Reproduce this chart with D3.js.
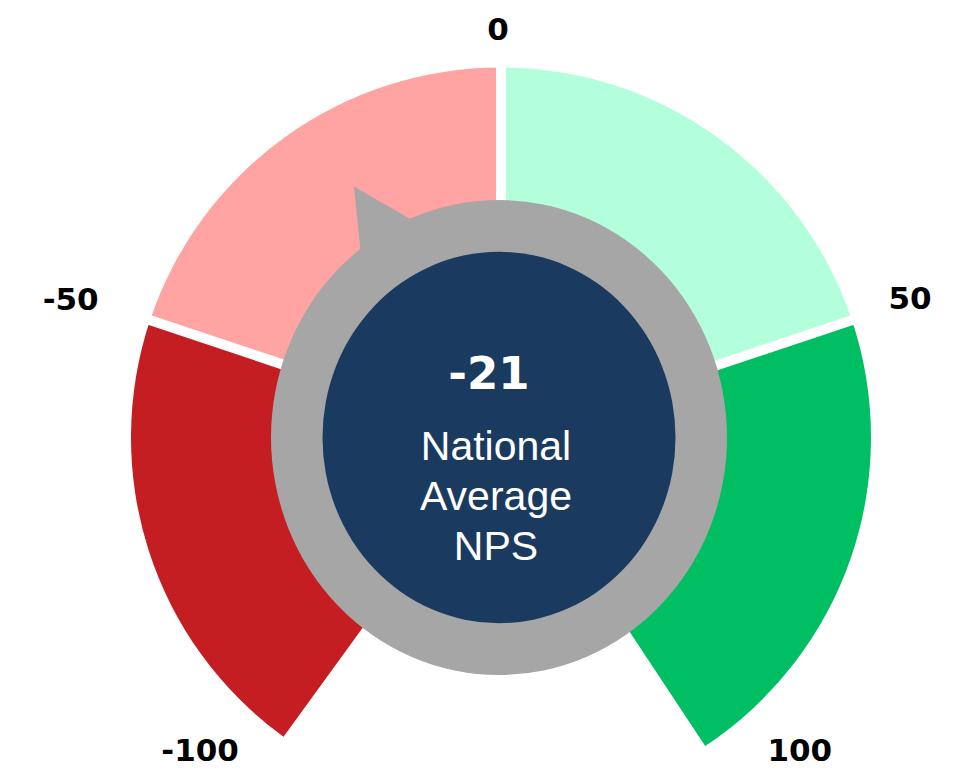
<!DOCTYPE html>
<html>
<head>
<meta charset="utf-8">
<script src="https://cdn.jsdelivr.net/npm/d3@7"></script>
<style>
  html, body { margin: 0; padding: 0; background: #ffffff; }
  svg { display: block; }
</style>
</head>
<body>
<div id="chart"></div>
<script>
// NPS bands around the dial
const bandStarts = [-100, -50, 0, 50];
const bandEnds   = [-50, 0, 50, 100];
const bandColors = ["#C41E22", "#FFA3A3", "#B4FFDB", "#00BF63"];

// Scale labels around the dial
const tickValues = [-100, -50, 0, 50, 100];
const tickLabels = ["-100", "-50", "0", "50", "100"];

// Score shown by the pointer and in the hub
const npsValue = -21;
const hubLines = ["National", "Average", "NPS"];

const width = 969, height = 771;
const cx = 501, cy = 437.5;         // dial centre
const hx = 499;                      // hub centre x
const outerR = 370, innerR = 150;
const ringRx = 228, ringRy = 237.5;  // grey ring
const hubRx = 176.5, hubRy = 185.7;  // navy hub

const deg = Math.PI / 180;
const angle = d3.scaleLinear()
  .domain([-100, -50, 0, 50, 100])
  .range([-144, -71.5, 0, 71.5, 146.5].map(v => v * deg));

const svg = d3.select("#chart").append("svg")
  .attr("width", width).attr("height", height);

// Coloured bands
const arc = d3.arc().innerRadius(innerR).outerRadius(outerR);
const dial = svg.append("g").attr("transform", `translate(${cx},${cy})`);
dial.selectAll("path.band")
  .data(bandStarts.map((s, i) => ({ s, e: bandEnds[i], c: bandColors[i] })))
  .join("path")
  .attr("class", "band")
  .attr("d", d => arc({ startAngle: angle(d.s), endAngle: angle(d.e) }))
  .attr("fill", d => d.c);

// White separators between adjacent bands
const inner = bandStarts.slice(1);
dial.selectAll("line.sep")
  .data(inner)
  .join("line")
  .attr("class", "sep")
  .attr("x1", 0).attr("y1", 0)
  .attr("x2", v => d3.pointRadial(angle(v), outerR + 10)[0])
  .attr("y2", v => d3.pointRadial(angle(v), outerR + 10)[1])
  .attr("stroke", "#ffffff")
  .attr("stroke-width", 10);

// Pointer on the grey ring
const hub = svg.append("g").attr("transform", `translate(${hx},${cy})`);
const a = angle(npsValue);
const half = 8.5 * deg;
const onRing = t => [0.97 * ringRx * Math.sin(t), -0.97 * ringRy * Math.cos(t)];
const tip = d3.pointRadial(a, 290);
hub.append("path")
  .attr("d", d3.line()([onRing(a - half), tip, onRing(a + half)]) + "Z")
  .attr("fill", "#A6A6A6");

hub.append("ellipse")
  .attr("rx", ringRx).attr("ry", ringRy)
  .attr("fill", "#A6A6A6");

hub.append("ellipse")
  .attr("rx", hubRx).attr("ry", hubRy)
  .attr("fill", "#1A3A5F");

// Hub text
svg.append("text")
  .attr("x", 489).attr("y", 389)
  .attr("text-anchor", "middle")
  .attr("fill", "#ffffff")
  .attr("font-family", "'DejaVu Sans', Verdana, sans-serif")
  .attr("font-weight", "bold")
  .attr("font-size", 45)
  .text(String(npsValue));

svg.append("g").selectAll("text")
  .data(hubLines)
  .join("text")
  .attr("x", 496)
  .attr("y", (d, i) => 460 + i * 50)
  .attr("text-anchor", "middle")
  .attr("fill", "#ffffff")
  .attr("font-family", "'Liberation Sans', Arial, sans-serif")
  .attr("font-size", 41)
  .text(d => d);

// Scale labels outside the dial
const labelAngle = d3.scaleLinear()
  .domain([-100, -50, 0, 50, 100])
  .range([-136.1, -72.2, -0.4, 71.2, 136.3].map(v => v * deg));
const labelRadius = d3.scaleLinear()
  .domain([-100, -50, 0, 50, 100])
  .range([434, 452, 408.5, 432, 432.5]);

svg.append("g").selectAll("text")
  .data(tickValues)
  .join("text")
  .attr("x", v => cx + d3.pointRadial(labelAngle(v), labelRadius(v))[0])
  .attr("y", v => cy + d3.pointRadial(labelAngle(v), labelRadius(v))[1])
  .attr("dy", "0.36em")
  .attr("text-anchor", "middle")
  .attr("fill", "#000000")
  .attr("font-family", "'DejaVu Sans', Verdana, sans-serif")
  .attr("font-weight", "bold")
  .attr("font-size", 31)
  .text((v, i) => tickLabels[i]);
</script>
</body>
</html>
